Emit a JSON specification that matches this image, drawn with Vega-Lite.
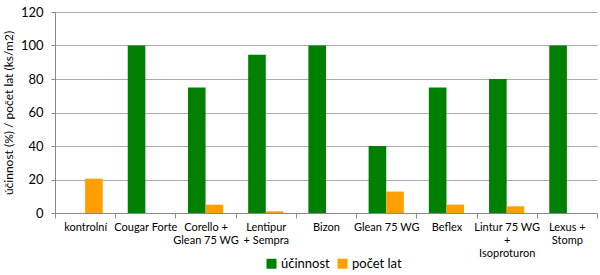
{
  "$schema": "https://vega.github.io/schema/vega-lite/v6.json",
  "width": 542,
  "height": 201,
  "autosize": {"type": "none"},
  "padding": {"left": 55, "top": 12, "right": 3, "bottom": 62},
  "background": "white",
  "config": {
    "font": "Lato",
    "view": {"stroke": null}
  },
  "data": {
    "values": [
      {"kat": "kontrolní", "serie": "účinnost", "hodnota": 0},
      {"kat": "kontrolní", "serie": "počet lat", "hodnota": 20.5},
      {"kat": "Cougar Forte", "serie": "účinnost", "hodnota": 100},
      {"kat": "Cougar Forte", "serie": "počet lat", "hodnota": 0},
      {"kat": "Corello +\nGlean 75 WG", "serie": "účinnost", "hodnota": 75},
      {"kat": "Corello +\nGlean 75 WG", "serie": "počet lat", "hodnota": 5},
      {"kat": "Lentipur\n+ Sempra", "serie": "účinnost", "hodnota": 94.5},
      {"kat": "Lentipur\n+ Sempra", "serie": "počet lat", "hodnota": 1},
      {"kat": "Bizon", "serie": "účinnost", "hodnota": 100},
      {"kat": "Bizon", "serie": "počet lat", "hodnota": 0},
      {"kat": "Glean 75 WG", "serie": "účinnost", "hodnota": 40},
      {"kat": "Glean 75 WG", "serie": "počet lat", "hodnota": 12.8},
      {"kat": "Beflex", "serie": "účinnost", "hodnota": 75},
      {"kat": "Beflex", "serie": "počet lat", "hodnota": 5},
      {"kat": "Lintur 75 WG\n+\nIsoproturon", "serie": "účinnost", "hodnota": 80},
      {"kat": "Lintur 75 WG\n+\nIsoproturon", "serie": "počet lat", "hodnota": 4},
      {"kat": "Lexus +\nStomp", "serie": "účinnost", "hodnota": 100},
      {"kat": "Lexus +\nStomp", "serie": "počet lat", "hodnota": 0}
    ]
  },
  "mark": {"type": "bar"},
  "encoding": {
    "x": {
      "field": "kat",
      "type": "nominal",
      "sort": null,
      "scale": {"paddingInner": 0, "paddingOuter": 0},
      "axis": {
        "title": null,
        "labelAngle": 0,
        "labelExpr": "split(datum.label, '\\n')",
        "labelLineHeight": 13,
        "labelFontSize": 11,
        "labelColor": "#000000",
        "labelPadding": 3,
        "labelBaseline": "top",
        "tickBand": "extent",
        "tickColor": "#888888",
        "tickSize": 5,
        "domainColor": "#888888",
        "labelLimit": 100
      }
    },
    "xOffset": {
      "field": "serie",
      "type": "nominal",
      "sort": ["účinnost", "počet lat"],
      "scale": {"paddingInner": 0, "paddingOuter": 0.71}
    },
    "y": {
      "field": "hodnota",
      "type": "quantitative",
      "scale": {"domain": [0, 120]},
      "axis": {
        "title": "účinnost (%) / počet lat (ks/m2)",
        "titleFontSize": 12,
        "titleFontWeight": "normal",
        "titleColor": "#000000",
        "titlePadding": 5,
        "values": [0, 20, 40, 60, 80, 100, 120],
        "labelFontSize": 13,
        "labelColor": "#000000",
        "labelPadding": 8,
        "gridColor": "#aaaaaa",
        "gridWidth": 1,
        "domainColor": "#888888",
        "tickColor": "#888888",
        "tickSize": 4
      }
    },
    "color": {
      "field": "serie",
      "type": "nominal",
      "sort": ["účinnost", "počet lat"],
      "scale": {"domain": ["účinnost", "počet lat"], "range": ["#008000", "#FFA000"]},
      "legend": {
        "title": null,
        "orient": "none",
        "legendX": 210,
        "legendY": 245,
        "direction": "horizontal",
        "symbolType": "square",
        "symbolSize": 100,
        "symbolStrokeWidth": 0,
        "symbolOffset": 0,
        "labelFontSize": 13,
        "labelOffset": 3,
        "labelColor": "#000000",
        "columnPadding": 6
      }
    }
  }
}
